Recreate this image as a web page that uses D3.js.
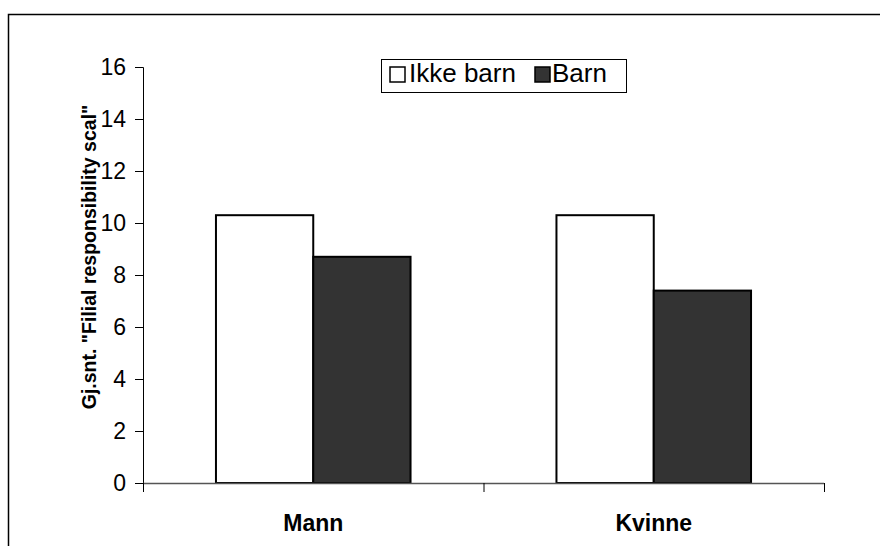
<!DOCTYPE html>
<html>
<head>
<meta charset="utf-8">
<script src="https://cdn.jsdelivr.net/npm/d3@7"></script>
<style>
  html, body { margin: 0; padding: 0; background: #fff; }
  svg { display: block; font-family: "Liberation Sans", Arial, sans-serif; }
</style>
</head>
<body>
<svg id="chart" width="880" height="546"></svg>
<script>
// Average filial responsibility scale by gender and whether respondent has children
const categories = ["Mann", "Kvinne"];
const seriesNames = ["Ikke barn", "Barn"];
const ikkeBarn = [10.3, 10.3];
const barn = [8.7, 7.4];
const yTicks = [0, 2, 4, 6, 8, 10, 12, 14, 16];
const seriesFill = ["#ffffff", "#333333"];
const yTitle = 'Gj.snt. "Filial responsibility scal"';

const svg = d3.select("#chart");
const W = 880, H = 546;
const FONT = "'Liberation Sans', Arial, sans-serif";

// Outer chart frame
svg.append("rect")
  .attr("x", 8.5).attr("y", 14.5)
  .attr("width", W).attr("height", H)
  .attr("fill", "#fff").attr("stroke", "#000").attr("stroke-width", 1.5);

const plot = { left: 143, right: 824, top: 67, bottom: 483 };

const x = d3.scaleBand().domain(categories).range([plot.left, plot.right]);
const y = d3.scaleLinear().domain([0, 16]).range([plot.bottom, plot.top]);

// Gap width 150%: each band holds 2 bars + 1.5 bar widths of gap
const barW = x.bandwidth() / 3.5;
const data = categories.map((c, i) => ({ cat: c, vals: [ikkeBarn[i], barn[i]] }));

// Y axis
const yAxis = d3.axisLeft(y).tickValues(yTicks).tickSize(8).tickPadding(9).tickFormat(d3.format("d"));
const gy = svg.append("g").attr("transform", `translate(${plot.left},0)`).call(yAxis);
gy.attr("font-size", null).attr("font-family", null);
gy.select(".domain").attr("stroke", "#000").attr("stroke-width", 1);
gy.selectAll(".tick line").attr("stroke", "#000");
gy.selectAll(".tick text")
  .style("font-size", "23px").style("font-family", FONT)
  .attr("fill", "#000");

// Bars
const groups = svg.append("g").selectAll("g").data(data).join("g");
groups.selectAll("rect").data(d => d.vals.map((v, k) => ({ cat: d.cat, v, k })))
  .join("rect")
  .attr("x", d => x(d.cat) + x.bandwidth() / 2 - barW + d.k * barW)
  .attr("y", d => y(d.v))
  .attr("width", barW)
  .attr("height", d => y(0) - y(d.v))
  .attr("fill", d => seriesFill[d.k])
  .attr("stroke", "#000").attr("stroke-width", 2);

// X axis (drawn over the bars' base)
const xAxisLine = svg.append("g");
xAxisLine.append("line")
  .attr("x1", plot.left).attr("x2", plot.right)
  .attr("y1", y(0) + 0.5).attr("y2", y(0) + 0.5)
  .attr("stroke", "#555").attr("stroke-width", 1.5);
const xTickPos = [plot.left, ...categories.slice(1).map(c => x(c)), plot.right];
xAxisLine.selectAll("line.tick").data(xTickPos).join("line")
  .attr("class", "tick")
  .attr("x1", d => d + 0.5).attr("x2", d => d + 0.5)
  .attr("y1", y(0)).attr("y2", y(0) + 9)
  .attr("stroke", "#000").attr("stroke-width", 1);

// Category labels
svg.append("g").selectAll("text").data(categories).join("text")
  .attr("x", d => x(d) + x.bandwidth() / 2)
  .attr("y", 531)
  .attr("text-anchor", "middle")
  .style("font-size", "23px").style("font-family", FONT)
  .attr("font-weight", "bold")
  .text(d => d);

// Y axis title
svg.append("text")
  .attr("transform", "translate(96,257) rotate(-90)")
  .attr("text-anchor", "middle")
  .style("font-size", "19.5px").style("font-family", FONT)
  .attr("font-weight", "bold")
  .text(yTitle);

// Legend
const lg = svg.append("g");
lg.append("rect")
  .attr("x", 381.5).attr("y", 59.5).attr("width", 245).attr("height", 33)
  .attr("fill", "#fff").attr("stroke", "#000").attr("stroke-width", 1);
const legendItems = [
  { name: seriesNames[0], fill: seriesFill[0], sx: 390, tx: 409 },
  { name: seriesNames[1], fill: seriesFill[1], sx: 535, tx: 552 }
];
legendItems.forEach(it => {
  lg.append("rect").attr("x", it.sx).attr("y", 67).attr("width", 15).attr("height", 15)
    .attr("fill", it.fill).attr("stroke", "#000").attr("stroke-width", 1.5);
  lg.append("text").attr("x", it.tx).attr("y", 82)
    .style("font-size", "26px").style("font-family", FONT)
    .text(it.name);
});
</script>
</body>
</html>
